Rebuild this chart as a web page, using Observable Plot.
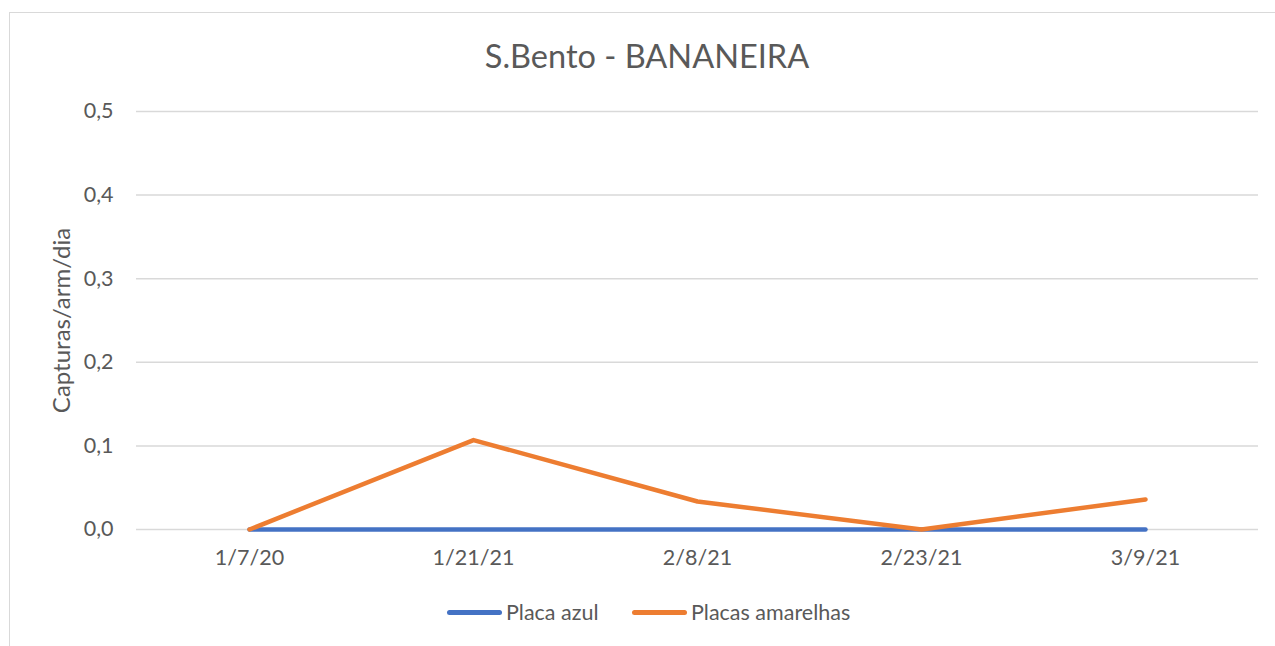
<!DOCTYPE html>
<html>
<head>
<meta charset="utf-8">
<script src="https://cdn.jsdelivr.net/npm/d3@7"></script>
<script src="https://cdn.jsdelivr.net/npm/@observablehq/plot@0.6"></script>
<style>
  html, body { margin: 0; padding: 0; background: #fff; }
  #wrap { position: relative; width: 1275px; height: 646px; overflow: hidden; font-family: Lato, "Open Sans", sans-serif; color: #595959; }
  #border { position: absolute; left: 9px; top: 12px; width: 1300px; height: 700px; border-top: 1.5px solid #d9d9d9; border-left: 1.5px solid #d9d9d9; }
  #title { position: absolute; left: 0; width: 1294px; top: 36px; text-align: center; font-size: 32.5px; line-height: 40px; }
  #chart { position: absolute; left: 0; top: 0; }
  #legend { position: absolute; top: 600px; left: 0; width: 1275px; height: 24px; font-size: 21.5px; }
  .item { position: absolute; top: 0; display: flex; align-items: center; height: 24px; }
  .sw { width: 55px; height: 5px; border-radius: 3px; margin-right: 4px; }
</style>
</head>
<body>
<div id="wrap">
  <div id="border"></div>
  <div id="chart"></div>
  <div id="title">S.Bento - BANANEIRA</div>
  <div id="legend"></div>
</div>
<script>
const dates = ["1/7/20", "1/21/21", "2/8/21", "2/23/21", "3/9/21"];
const placaAzul = [0, 0, 0, 0, 0];
const placasAmarelhas = [0, 0.107, 0.0335, 0, 0.036];
const yTicks = [0, 0.1, 0.2, 0.3, 0.4, 0.5];
const seriesNames = ["Placa azul", "Placas amarelhas"];
const seriesColors = ["#4472C4", "#ED7D31"];
const yLabel = "Capturas/arm/dia";

const rows = [];
dates.forEach((d, i) => rows.push({date: d, value: placaAzul[i], series: seriesNames[0]}));
dates.forEach((d, i) => rows.push({date: d, value: placasAmarelhas[i], series: seriesNames[1]}));

const fmt = v => v.toFixed(1).replace(".", ",");

const chart = Plot.plot({
  width: 1275,
  height: 646,
  marginLeft: 136,
  marginRight: 17,
  marginTop: 111,
  marginBottom: 117,
  style: {fontFamily: "Lato, 'Open Sans', sans-serif", fontSize: "21.5px", color: "#595959", background: "transparent"},
  x: {type: "point", domain: dates, padding: 0.5},
  y: {domain: [0, 0.5]},
  color: {domain: seriesNames, range: seriesColors},
  marks: [
    Plot.gridY(yTicks, {stroke: "#d9d9d9", strokeOpacity: 1, strokeWidth: 1.5}),
    Plot.axisY(yTicks, {tickSize: 0, tickPadding: 23, tickFormat: fmt, label: null, fill: "#595959"}),
    Plot.axisX(dates, {tickSize: 0, tickPadding: 20, label: null, fill: "#595959"}),
    Plot.text([yLabel], {frameAnchor: "left", textAnchor: "middle", dx: -74, rotate: -90, text: d => d, fontSize: 24, fill: "#595959"}),
    Plot.line(rows, {x: "date", y: "value", z: "series", stroke: "series", strokeWidth: 4.5, strokeLinecap: "round", strokeLinejoin: "round"})
  ]
});
document.getElementById("chart").appendChild(chart);

const legend = document.getElementById("legend");
const lefts = [447, 632];
seriesNames.forEach((name, i) => {
  const it = document.createElement("div");
  it.className = "item";
  it.style.left = lefts[i] + "px";
  const sw = document.createElement("div");
  sw.className = "sw";
  sw.style.background = seriesColors[i];
  const t = document.createElement("span");
  t.textContent = name;
  it.appendChild(sw);
  it.appendChild(t);
  legend.appendChild(it);
});
</script>
</body>
</html>
